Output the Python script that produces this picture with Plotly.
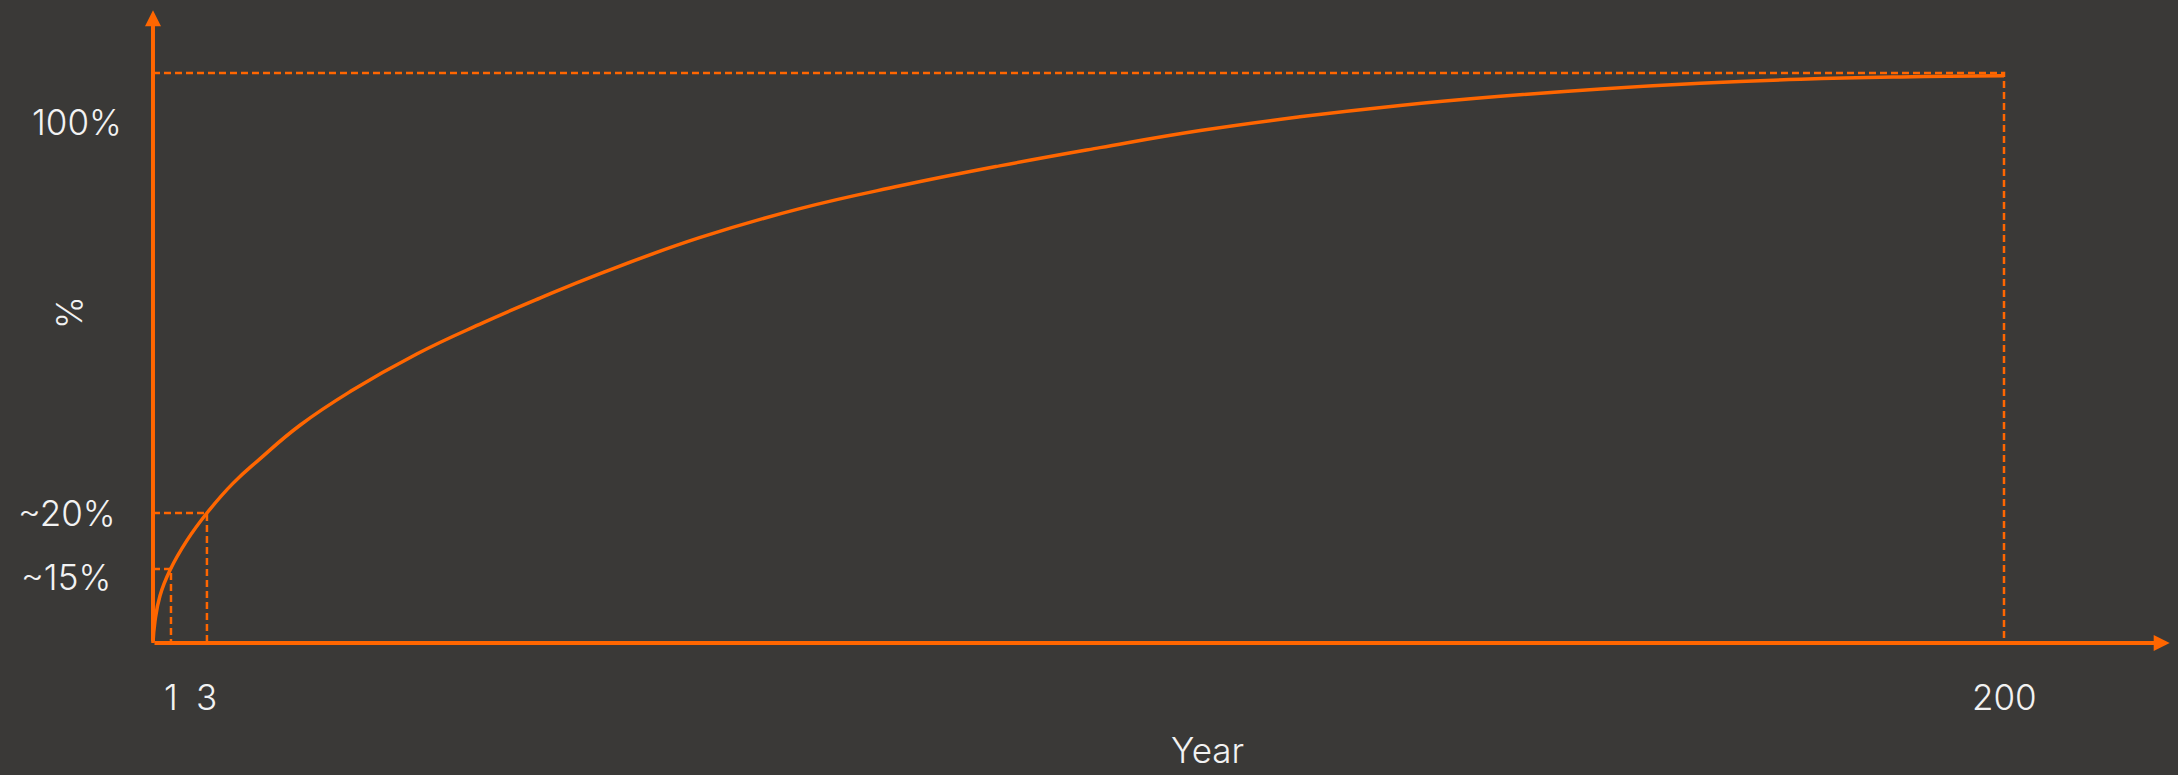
import numpy as np
import plotly.graph_objects as go

# ---- data ----
curve_years = [0, 0.11, 0.39, 0.95, 1.89, 3.0, 5.85, 8.81, 13.2, 18.7, 26.0, 33.3, 39.5,
               46.1, 57.0, 68.0, 79.0, 89.9, 100.9, 111.9, 122.8, 133.8, 144.8, 155.8,
               166.7, 177.7, 188.7, 200]
curve_pct = [0, 3.8, 8.3, 12.8, 18.0, 22.8, 28.0, 32.3, 38.2, 44.1, 50.7, 56.2, 60.5,
             64.8, 71.1, 76.2, 80.2, 83.7, 86.9, 89.9, 92.3, 94.3, 95.9, 97.2,
             98.2, 98.9, 99.3, 99.5]

guide_years = [1, 3, 200]
guide_pct = [13.0, 22.8, 100.0]

x_tick_labels = ["1", "3", "200"]
y_tick_labels = ["~15%", "~20%", "100%"]
x_title = "Year"
y_title = "%"

# ---- style ----
BG = "#3A3937"
OR = "#FF6600"
TXT = "#F2F2F2"
FONT = "Inter"

# schematic (stretched near the origin) year scale
def xpos(year):
    return np.interp(year, [0, 3, 200], [0, 5.83, 200])

fig = go.Figure()

# dashed guide lines
for gy, gp in zip(guide_years, guide_pct):
    gx = float(xpos(gy))
    fig.add_trace(go.Scatter(x=[0, gx, gx], y=[gp, gp, 0], mode="lines",
                             line=dict(color=OR, width=2.5, dash="7px,4px"),
                             hoverinfo="skip", showlegend=False))

# curve
fig.add_trace(go.Scatter(x=xpos(curve_years), y=curve_pct, mode="lines",
                         line=dict(color=OR, width=3.5, shape="spline", smoothing=1.3),
                         hoverinfo="skip", showlegend=False))

x_tip = 217.9
y_tip = 111.0

# axes with arrows
fig.add_annotation(x=x_tip, y=0, ax=0, ay=0, xref="x", yref="y", axref="x", ayref="y",
                   text="", showarrow=True, arrowhead=2, arrowsize=0.8, arrowwidth=4,
                   arrowcolor=OR, standoff=0)
fig.add_annotation(x=0, y=y_tip, ax=0, ay=0, xref="x", yref="y", axref="x", ayref="y",
                   text="", showarrow=True, arrowhead=2, arrowsize=0.8, arrowwidth=4,
                   arrowcolor=OR, standoff=0)

tfont = dict(family=FONT, size=35, color=TXT, weight=300)

# x tick labels
for gy, lab in zip(guide_years, x_tick_labels):
    fig.add_annotation(x=float(xpos(gy)), y=0, xref="x", yref="y", text=lab,
                       showarrow=False, yshift=-54, font=tfont,
                       xanchor="center", yanchor="middle")

# y tick labels
y_label_px = [(66, 577), (67, 513), (77, 122)]
for (px, py), lab in zip(y_label_px, y_tick_labels):
    fig.add_annotation(x=px / 2178, y=1 - py / 775, xref="paper", yref="paper", text=lab,
                       showarrow=False, font=tfont, xanchor="center", yanchor="middle")

fig.add_annotation(x=1207 / 2178, y=1 - 750 / 775, xref="paper", yref="paper", text=x_title,
                   showarrow=False, font=tfont, xanchor="center", yanchor="middle")
fig.add_annotation(x=69 / 2178, y=1 - 313 / 775, xref="paper", yref="paper", text=y_title,
                   showarrow=False, font=tfont, textangle=-90,
                   xanchor="center", yanchor="middle")

fig.update_layout(
    width=2178, height=775, autosize=False,
    margin=dict(l=0, r=0, t=0, b=0),
    paper_bgcolor=BG, plot_bgcolor=BG,
    xaxis=dict(visible=False, range=[-16.53, 218.8], fixedrange=True),
    yaxis=dict(visible=False, range=[-23.16, 112.8], fixedrange=True),
    showlegend=False,
)

fig.write_html("out.html", config={"displayModeBar": False},
               post_script="document.body.style.margin='0';document.body.style.background='#3A3937';")
